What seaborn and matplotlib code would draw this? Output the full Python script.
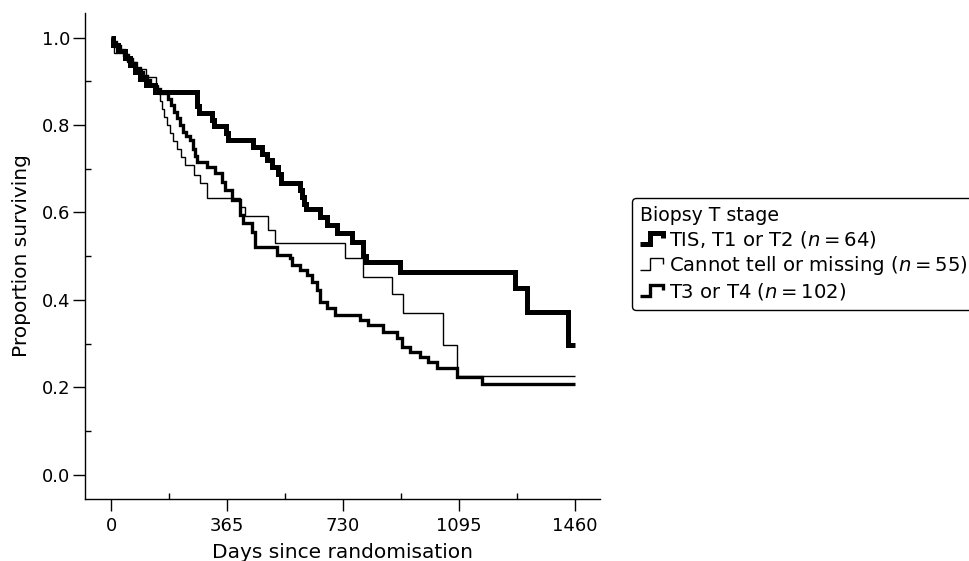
import matplotlib
matplotlib.use("Agg")
import matplotlib.pyplot as plt
from matplotlib.legend_handler import HandlerBase
from matplotlib.lines import Line2D
from matplotlib.ticker import MultipleLocator
import pandas as pd
import seaborn as sns

# Kaplan-Meier estimates by biopsy T stage: day of each step and survival after it
tis_days = [6, 22, 44, 60, 76, 91, 110, 138, 271, 277, 318, 324, 362, 368, 447,
            475, 491, 507, 525, 535, 595, 601, 607, 614, 658, 680, 711, 758, 793,
            802, 909, 1271, 1309, 1438]
tis_surv = [0.984, 0.969, 0.953, 0.938, 0.922, 0.906, 0.891, 0.875, 0.844, 0.828,
            0.812, 0.797, 0.781, 0.766, 0.750, 0.734, 0.719, 0.703, 0.688, 0.667,
            0.651, 0.635, 0.620, 0.609, 0.589, 0.571, 0.553, 0.533, 0.500, 0.487,
            0.464, 0.427, 0.372, 0.297]

cannot_days = [3, 9, 50, 79, 110, 142, 148, 154, 160, 167, 176, 186, 195, 208,
               220, 233, 261, 280, 302, 406, 422, 494, 516, 736, 793, 884, 919,
               1045, 1089]
cannot_surv = [0.982, 0.964, 0.945, 0.927, 0.909, 0.891, 0.873, 0.855, 0.836,
               0.818, 0.800, 0.782, 0.764, 0.745, 0.727, 0.709, 0.686, 0.667,
               0.633, 0.613, 0.591, 0.560, 0.530, 0.496, 0.453, 0.414, 0.370,
               0.297, 0.226]

t34_days = [6, 16, 28, 41, 53, 66, 79, 91, 101, 113, 123, 138, 154, 179, 189, 198,
            208, 217, 227, 236, 249, 258, 264, 271, 302, 327, 349, 359, 381, 406,
            415, 444, 453, 522, 563, 570, 595, 617, 632, 648, 658, 680, 705, 784,
            809, 856, 900, 916, 941, 972, 997, 1026, 1089, 1167]
t34_surv = [0.990, 0.980, 0.971, 0.961, 0.951, 0.941, 0.931, 0.922, 0.912, 0.902,
            0.892, 0.882, 0.873, 0.860, 0.845, 0.830, 0.815, 0.800, 0.785, 0.775,
            0.766, 0.745, 0.730, 0.715, 0.704, 0.690, 0.670, 0.651, 0.629, 0.594,
            0.576, 0.555, 0.521, 0.503, 0.496, 0.480, 0.469, 0.457, 0.441, 0.423,
            0.395, 0.382, 0.366, 0.354, 0.343, 0.327, 0.313, 0.293, 0.281, 0.270,
            0.258, 0.245, 0.224, 0.208]

follow_up_end = 1460

group_labels = ["TIS, T1 or T2", "Cannot tell or missing", "T3 or T4"]
group_n = [64, 55, 102]
group_days = [tis_days, cannot_days, t34_days]
group_surv = [tis_surv, cannot_surv, t34_surv]
group_widths = [3.6, 1.0, 2.4]

x_ticks = [0, 365, 730, 1095, 1460]
y_ticks = [0.0, 0.2, 0.4, 0.6, 0.8, 1.0]

sns.set_style("ticks")
plt.rcParams["font.family"] = ["DejaVu Sans"]
plt.rcParams["mathtext.fontset"] = "dejavusans"
for key in ("text.color", "axes.labelcolor", "xtick.color", "ytick.color",
            "axes.edgecolor"):
    plt.rcParams[key] = "black"

fig = plt.figure(figsize=(9.70, 5.61), dpi=100)
ax = fig.add_axes([0.0876, 0.1105, 0.5310, 0.8663])

handles = []
for label, days, surv, lw in zip(group_labels, group_days, group_surv, group_widths):
    t = [0] + list(days) + [follow_up_end]
    s = [1.0] + list(surv) + [surv[-1]]
    df = pd.DataFrame({"day": t, "surv": s})
    sns.lineplot(data=df, x="day", y="surv", drawstyle="steps-post",
                 estimator=None, sort=False, color="black", linewidth=lw,
                 solid_joinstyle="miter", solid_capstyle="butt", ax=ax, legend=False)
    handles.append(Line2D([], [], color="black", linewidth=lw))

ax.set_xlim(-82, 1539)
ax.set_ylim(-0.055, 1.056)
ax.set_xticks(x_ticks)
ax.set_xticklabels([str(v) for v in x_ticks])
ax.set_yticks(y_ticks)
ax.set_yticklabels([f"{v:.1f}" for v in y_ticks])
ax.xaxis.set_minor_locator(MultipleLocator(182.5))
ax.yaxis.set_minor_locator(MultipleLocator(0.1))
ax.tick_params(which="major", direction="out", length=8.6, width=1.0,
               labelsize=13, color="black", labelcolor="black")
ax.tick_params(axis="x", which="major", pad=4)
ax.tick_params(axis="y", which="major", pad=2)
ax.tick_params(which="minor", direction="in", length=4.2, width=1.0, color="black")
for side in ("top", "right"):
    ax.spines[side].set_visible(False)
for side in ("left", "bottom"):
    ax.spines[side].set_linewidth(1.0)
    ax.spines[side].set_color("black")
ax.set_xlabel("Days since randomisation", fontsize=14.5, labelpad=6, color="black")
ax.set_ylabel("Proportion surviving", fontsize=14.5, labelpad=8, color="black")


class StepHandler(HandlerBase):
    def create_artists(self, legend, orig_handle, xdescent, ydescent, width,
                       height, fontsize, trans):
        x0, y0 = -xdescent, -ydescent
        xs = [x0, x0 + 0.42 * width, x0 + 0.42 * width, x0 + width, x0 + width]
        ys = [y0 + 0.05 * height, y0 + 0.05 * height, y0 + 0.95 * height,
              y0 + 0.95 * height, y0 + 0.55 * height]
        line = Line2D(xs, ys, color="black", linewidth=orig_handle.get_linewidth(),
                      solid_joinstyle="miter", solid_capstyle="butt", transform=trans)
        return [line]


labels = [g + " " + rf"$(n = {n})$" for g, n in zip(group_labels, group_n)]
leg = fig.legend(handles, labels, title="Biopsy T stage", loc="upper left",
                 bbox_to_anchor=(0.6515, 0.647), borderaxespad=0, fontsize=14.1,
                 title_fontsize=13.6, alignment="left", frameon=True, fancybox=True,
                 edgecolor="black", framealpha=1, handlelength=1.15, handleheight=0.62,
                 handletextpad=0.3, labelspacing=0.2, borderpad=0.42,
                 handler_map={Line2D: StepHandler()})
leg.get_frame().set_linewidth(1.0)
for txt in leg.get_texts():
    txt.set_color("black")
leg.get_title().set_color("black")

fig.savefig("out.png", dpi=100)
